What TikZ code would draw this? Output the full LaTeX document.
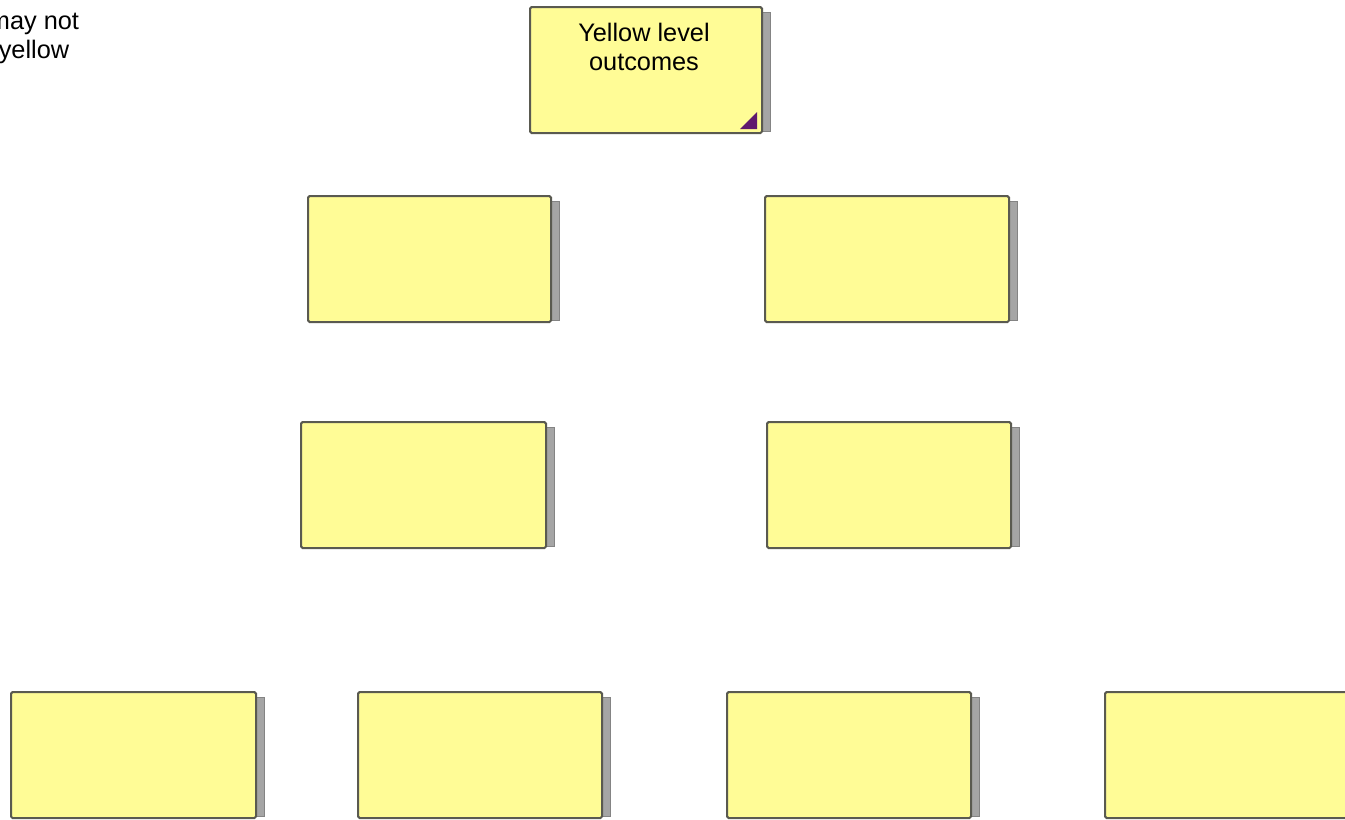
\documentclass[tikz,border=0pt]{standalone}
\usepackage{fontspec}
\setmainfont{Liberation Sans}
\definecolor{boxfill}{RGB}{255,252,150}
\definecolor{boxline}{RGB}{90,90,80}
\definecolor{shade}{RGB}{165,165,165}
\definecolor{cornermark}{RGB}{95,25,110}
\tikzset{
  px/.style={x=0.75pt,y=-0.75pt},
  card/.style={draw=boxline,line width=1.5pt,fill=boxfill,rounded corners=1.2pt},
  cardshadow/.style={fill=shade,draw=shade!80!black,line width=0.5pt},
  lbl/.style={font=\fontsize{19}{21.5}\selectfont,align=center,inner sep=0pt,anchor=north}
}
\newcommand{\mycard}[5]{% name, x1, y1, x2, y2
  \fill[cardshadow] (#4,#3+5) rectangle (#4+8,#5-2);
  \draw[card] (#2,#3) rectangle (#4,#5);
  \coordinate (#1) at ({(#2+#4)/2},{(#3+#5)/2});
}
\begin{document}
\begin{tikzpicture}[px]
\useasboundingbox (0,0) rectangle (1345,819);
\clip (0,0) rectangle (1345,819);
\node[lbl] (note) at (34,13) {may not\\yellow};
\mycard{top}{530}{7}{762}{133}
\fill[cornermark] (757,112) -- (757,129) -- (740,129) -- cycle;
\node[lbl] (toptext) at (644,23) {Yellow level\\outcomes};
\mycard{a1}{308}{196}{551}{322}
\mycard{a2}{765}{196}{1009}{322}
\mycard{b1}{301}{422}{546}{548}
\mycard{b2}{767}{422}{1011}{548}
\mycard{c1}{11}{692}{256}{818}
\mycard{c2}{358}{692}{602}{818}
\mycard{c3}{727}{692}{971}{818}
\mycard{c4}{1105}{692}{1350}{818}
\end{tikzpicture}
\end{document}
